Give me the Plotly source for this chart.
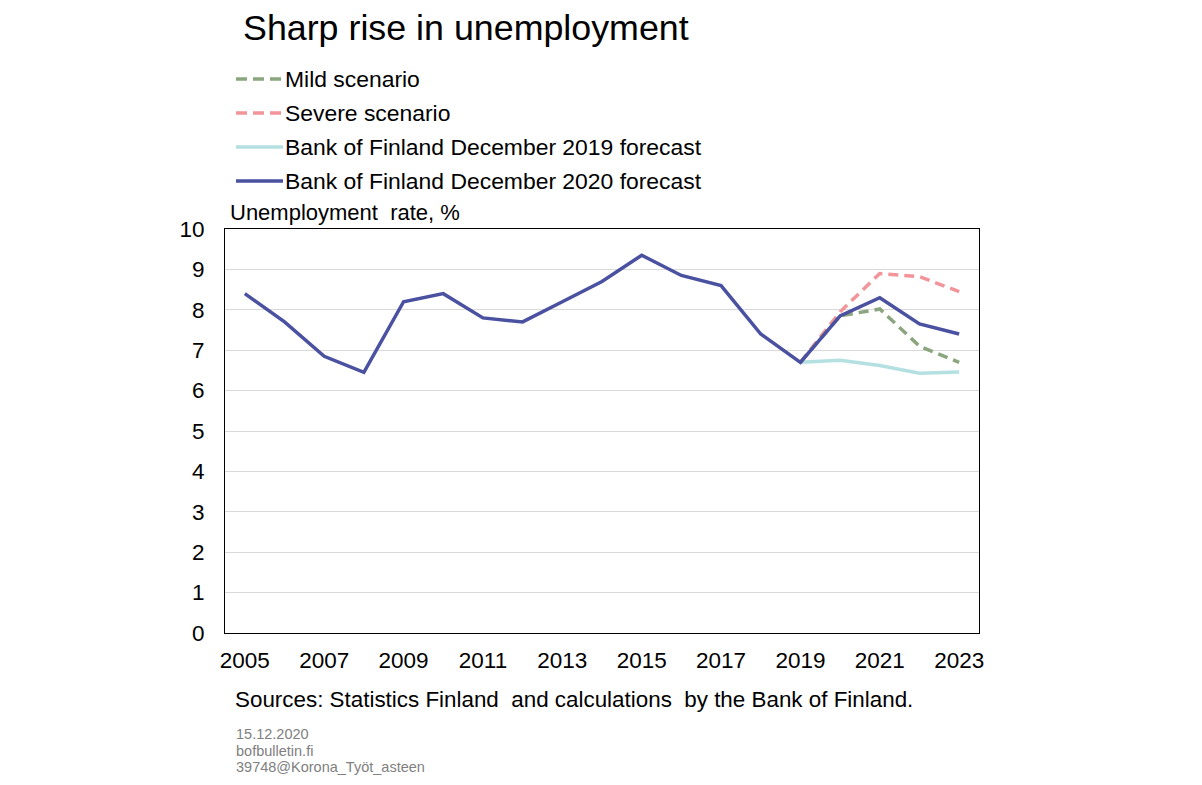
import plotly.graph_objects as go

years = list(range(2005, 2024))
dec2020 = [8.4, 7.7, 6.85, 6.45, 8.2, 8.4, 7.8, 7.7, 8.2, 8.7, 9.35, 8.85, 8.6, 7.4, 6.7, 7.85, 8.3, 7.65, 7.4]
years_fc = [2019, 2020, 2021, 2022, 2023]
dec2019 = [6.7, 6.75, 6.62, 6.43, 6.46]
mild = [6.7, 7.85, 8.02, 7.1, 6.7]
severe = [6.7, 7.95, 8.9, 8.82, 8.45]
xticks = list(range(2005, 2024, 2))
yticks = list(range(0, 11))

names = ["Mild scenario", "Severe scenario", "Bank of Finland December 2019 forecast",
         "Bank of Finland December 2020 forecast"]
colors = ["#8BA67E", "#F2959B", "#B4E0E2", "#4A51A0"]
dashes = ["dash", "dash", "solid", "solid"]

OFF = 8  # page body margin
W, H = 1202 - 2 * OFF, 785 - 2 * OFF
L, R, T, B = 225 - OFF, 979 - OFF, 229 - OFF, 633 - OFF
FONT = "Liberation Sans, Arial, sans-serif"
DASH = "10px,6px"


def px(x):
    return (x - OFF - L) / (R - L)


def py(y):
    return (B - (y - OFF)) / (B - T)


fig = go.Figure()
fig.add_trace(go.Scatter(x=years_fc, y=dec2019, mode="lines", name=names[2],
                         line=dict(color=colors[2], width=3.5), showlegend=False))
fig.add_trace(go.Scatter(x=years_fc, y=severe, mode="lines", name=names[1],
                         line=dict(color=colors[1], width=3.5, dash=DASH), showlegend=False))
fig.add_trace(go.Scatter(x=years_fc, y=mild, mode="lines", name=names[0],
                         line=dict(color=colors[0], width=3.5, dash=DASH), showlegend=False))
fig.add_trace(go.Scatter(x=years, y=dec2020, mode="lines", name=names[3],
                         line=dict(color=colors[3], width=3.5), showlegend=False))

shapes = []
annotations = []
rows = [79, 113, 147, 181]
for i, (n, c, d) in enumerate(zip(names, colors, dashes)):
    shapes.append(dict(type="line", xref="paper", yref="paper",
                       x0=px(236), x1=px(283), y0=py(rows[i]), y1=py(rows[i]),
                       line=dict(color=c, width=3.5, dash="11px,6px" if d == "dash" else "solid")))
    annotations.append(dict(xref="paper", yref="paper", x=px(283), y=py(rows[i]),
                            text=n, showarrow=False, xanchor="left", yanchor="middle",
                            font=dict(size=22.9, color="#000000", family=FONT)))

annotations.append(dict(xref="paper", yref="paper", x=px(241), y=py(28),
                        text="Sharp rise in unemployment", showarrow=False,
                        xanchor="left", yanchor="middle",
                        font=dict(size=35.8, color="#000000", family=FONT)))
annotations.append(dict(xref="paper", yref="paper", x=px(228), y=py(212),
                        text="Unemployment  rate, %", showarrow=False,
                        xanchor="left", yanchor="middle",
                        font=dict(size=22, color="#000000", family=FONT)))
annotations.append(dict(xref="paper", yref="paper", x=px(233), y=py(699),
                        text="Sources: Statistics Finland  and calculations  by the Bank of Finland.",
                        showarrow=False, xanchor="left", yanchor="middle",
                        font=dict(size=22.4, color="#000000", family=FONT)))
for i, t in enumerate(["15.12.2020", "bofbulletin.fi", "39748@Korona_Työt_asteen"]):
    annotations.append(dict(xref="paper", yref="paper", x=px(234), y=py(734 + 16.5 * i),
                            text=t, showarrow=False, xanchor="left", yanchor="middle",
                            font=dict(size=14.5, color="#808080", family=FONT)))

fig.update_layout(
    width=W, height=H,
    margin=dict(l=L, r=W - R, t=T, b=H - B, pad=0),
    paper_bgcolor="white", plot_bgcolor="white",
    showlegend=False,
    shapes=shapes, annotations=annotations,
    font=dict(family=FONT, color="#000000"),
)
fig.update_xaxes(range=[2004.5, 2023.5], tickvals=xticks,
                 showgrid=False, zeroline=False, showline=True, mirror=True,
                 linecolor="#000000", linewidth=1, ticks="",
                 tickfont=dict(size=22.5, family=FONT, color="#000000"),
                 ticklabelstandoff=7)
fig.update_yaxes(range=[0, 10], tickvals=yticks,
                 showgrid=True, gridcolor="#D9D9D9", gridwidth=1, zeroline=False,
                 showline=True, mirror=True, linecolor="#000000", linewidth=1, ticks="",
                 tickfont=dict(size=22.5, family=FONT, color="#000000"),
                 ticklabelstandoff=15)

fig.write_html("out.html")
